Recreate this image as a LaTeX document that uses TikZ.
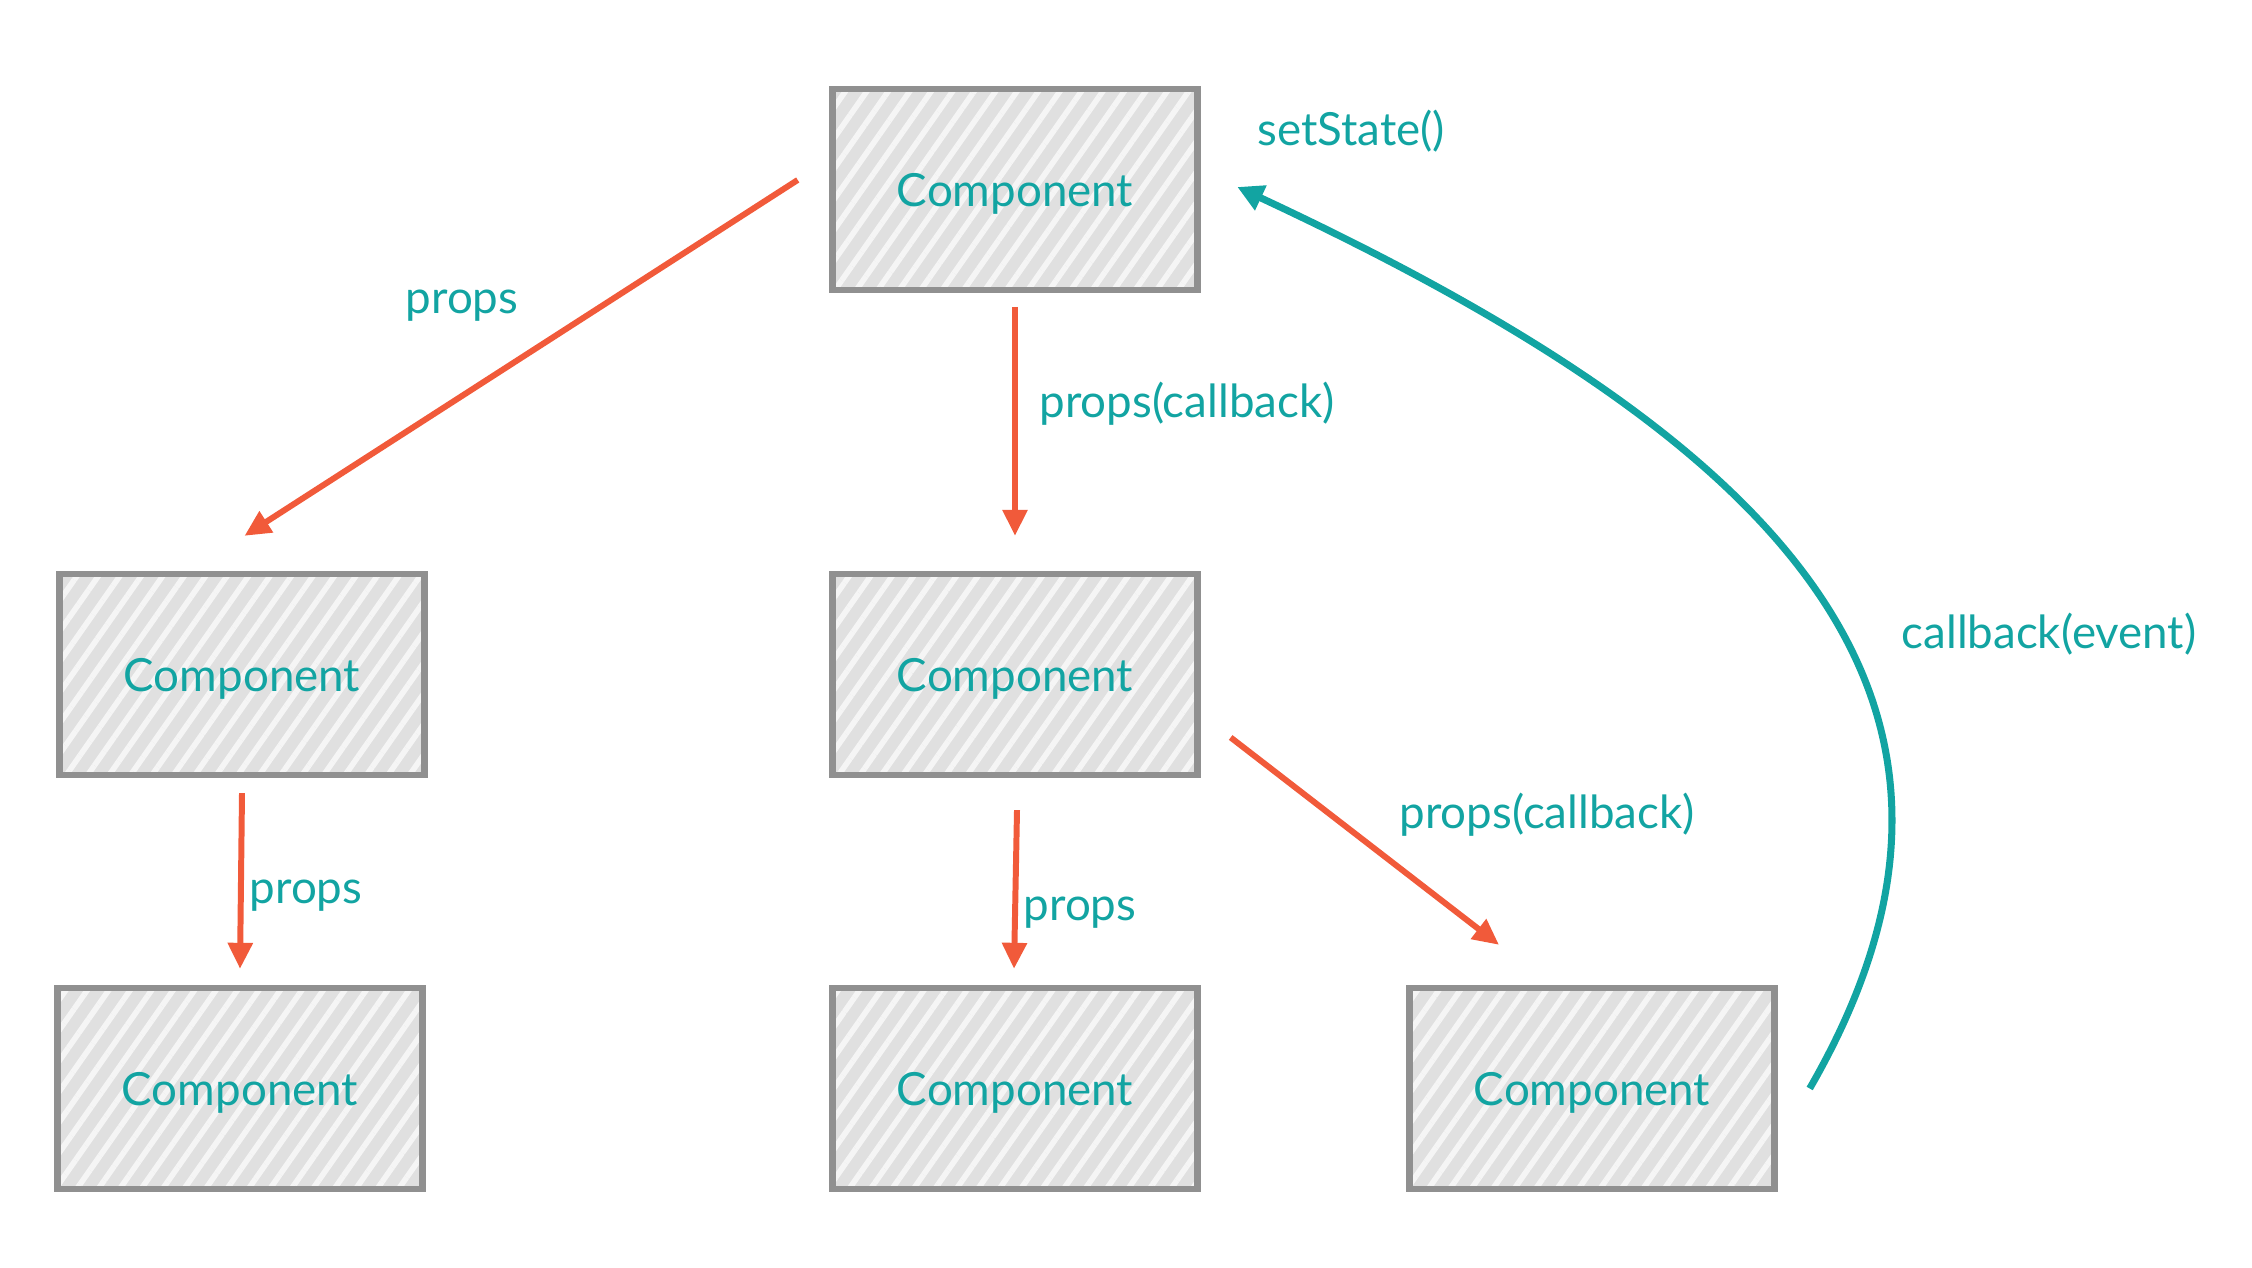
\documentclass[tikz,border=0pt]{standalone}
\usepackage{fontspec}
\setmainfont{Lato}
\usetikzlibrary{arrows.meta,patterns.meta}
\definecolor{flowred}{HTML}{F15A3A}
\definecolor{cbteal}{HTML}{12A4A2}
\definecolor{boxline}{HTML}{909090}
\definecolor{boxfill}{HTML}{E0E0E0}
\definecolor{hatch}{HTML}{F5F5F5}
\begin{document}
\begin{tikzpicture}[font=\fontsize{13}{15}\selectfont,
  comp/.style={draw=boxline,line width=1.8pt,preaction={fill=boxfill},
    pattern={Lines[angle=55,distance=5pt,line width=1.6pt]},pattern color=hatch,
    minimum width=3.65cm,minimum height=2.01cm,text=cbteal,text depth=-0.7mm},
  props/.style={flowred,line width=1.7pt,-{Triangle[length=2.6mm,width=2.4mm]}},
  cb/.style={cbteal,line width=2pt,-{Triangle[length=2.6mm,width=2.6mm]}},
  lbl/.style={text=cbteal}]
  \useasboundingbox (0,0) rectangle (22.52,12.68);
  \node[comp] (root) at (10.15,10.785) {Component};
  \node[comp] (kidl) at (2.42,5.935) {Component};
  \node[comp] (kidc) at (10.15,5.935) {Component};
  \node[comp] (leafl) at (2.40,1.795) {Component};
  \node[comp] (leafc) at (10.15,1.795) {Component};
  \node[comp] (leafr) at (15.92,1.795) {Component};
  \draw[props] ([xshift=-3.2mm,yshift=0.95mm]root.west) -- ([xshift=0.25mm,yshift=3.5mm]kidl.north);
  \draw[props] ([yshift=-1.4mm]root.south) -- ([yshift=3.5mm]kidc.north);
  \draw[props] ([yshift=-1.5mm]kidl.south) -- ([yshift=1.6mm]leafl.north);
  \draw[props] ([xshift=0.2mm,yshift=-3.2mm]kidc.south) -- ([xshift=-0.1mm,yshift=1.6mm]leafc.north);
  \draw[props] ([xshift=3mm,yshift=-6.3mm]kidc.east) -- ([xshift=-9.3mm,yshift=4mm]leafr.north);
  \draw[cb] ([xshift=3.2mm]leafr.east) .. controls +(60:4.5) and +(-25:6) .. ([xshift=3.7mm,yshift=0.25mm]root.east);
  \node[lbl] (p1) at (4.62,9.62) {props};
  \node[lbl,right] (pc1) at (10.27,8.64) {props(callback)};
  \node[lbl] (p2) at (3.06,3.72) {props};
  \node[lbl] (p3) at (10.80,3.55) {props};
  \node[lbl] (pc2) at (15.47,4.53) {props(callback)};
  \node[lbl] (ss) at (13.51,11.37) {setState()};
  \node[lbl] (cbe) at (20.49,6.34) {callback(event)};
\end{tikzpicture}
\end{document}
